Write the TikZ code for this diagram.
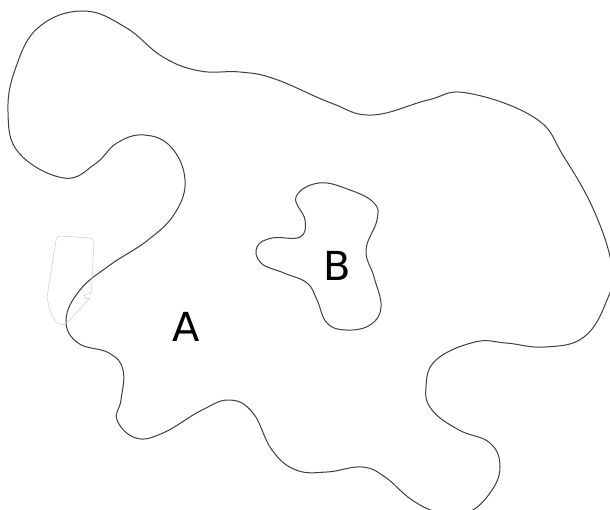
\documentclass[tikz,border=0pt]{standalone}
\usepackage{fontspec}
\setmainfont{DejaVu Sans}
\tikzset{
  region/.style={draw=black!75, line width=1pt},
  faint/.style={draw=black!20, line width=0.5pt, line join=round},
  lbl/.style={font=\fontsize{40}{40}\selectfont, inner sep=0pt}
}
\begin{document}
\begin{tikzpicture}[x=1pt,y=-1pt]
\useasboundingbox (0,0) rectangle (610,510);
\clip (0,0) rectangle (610,510);
\fill[white] (0,0) rectangle (610,510);
% outer region A
\draw[region] plot[smooth cycle, tension=0.7] coordinates {
 (83,11) (125,27) (163,57) (200,71) (240,72) (275,79) (331,103) (372,115)
 (428,100) (467,93) (535,118) (564,157) (595,213) (612,268) (607,300)
 (584,337) (545,347) (506,343) (475,342) (436,360) (426,387) (432,410)
 (459,430) (490,443) (500,467) (490,493) (467,513) (440,513) (412,500)
 (385,477) (362,467) (327,472) (296,470) (272,450) (253,413) (230,400)
 (202,410) (163,433) (136,438) (117,420) (121,400) (123,370) (109,353)
 (78,343) (66,320) (80,290) (110,265) (148,240) (175,213) (185,180)
 (171,147) (144,135) (117,143) (95,164) (64,178) (19,153) (8,112)
 (16,67) (39,27)};
% inner region B
\draw[region] plot[smooth cycle, tension=0.7] coordinates {
 (319,183) (350,190) (374,203) (377,220) (366,250) (374,277) (381,307)
 (370,325) (346,330) (327,323) (317,300) (307,283) (284,273) (261,263)
 (257,247) (272,238) (300,237) (305,220) (296,197)};
% faint shape
\draw[faint] (60,236) -- (89,238) to[out=0,in=90] (94,242) -- (91.5,292)
  to[out=260,in=90] (84,296) to[out=270,in=180] (86,299) -- (90,298)
  -- (66,324) to[out=200,in=280] (47,297) -- (56,240) to[out=80,in=180] (60,236);
\node[lbl] (A) at (186,327) {A};
\node[lbl] (B) at (337,266) {B};
\end{tikzpicture}
\end{document}
